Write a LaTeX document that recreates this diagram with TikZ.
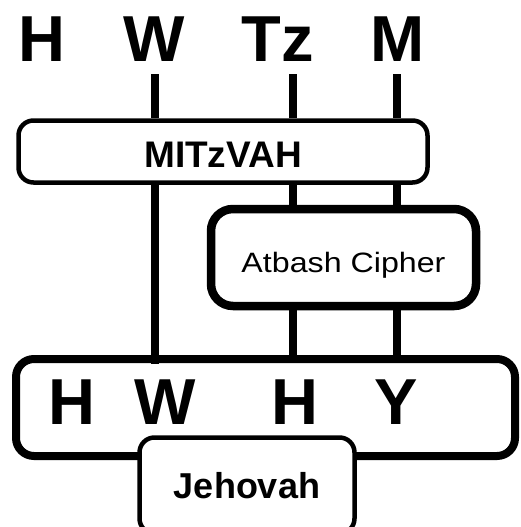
\documentclass[tikz,border=0pt]{standalone}
\usepackage{fontspec}
\setmainfont{Liberation Sans}
\newfontfamily\widesans[FakeStretch=1.15]{Liberation Sans}
\usepackage{tikz}
\usetikzlibrary{positioning}

\begin{document}
\begin{tikzpicture}[
        x=1pt, y=-1pt,
        letter/.style = {
            anchor=base,
            inner sep=0pt,
            font=\fontsize{65}{70}\selectfont\bfseries
        },
        thinbox/.style = {
            rectangle,
            rounded corners=15pt,
            draw=black,
            line width=4.5pt,
            fill=white,
            align=center,
            text depth=0pt
        },
        thickbox/.style = {
            rectangle,
            rounded corners=18pt,
            draw=black,
            line width=8pt,
            fill=white,
            align=center,
            text depth=0pt
        },
        link/.style = {
            line width=7.5pt
        }
    ]

    \clip (0,0) rectangle (521,527);

    % Top letters
    \node[letter] (h1)  at (42,62)  {H};
    \node[letter] (w1)  at (154,62) {W};
    \node[letter] (tz1) at (278,62) {Tz};
    \node[letter] (m1)  at (398,62) {M};

    \coordinate (colW) at (155,74);
    \coordinate (colT) at (293,74);
    \coordinate (colM) at (397,74);

    % Boxes
    \node[thinbox, minimum width=409pt, minimum height=62pt, text height=31pt,
          font=\fontsize{37}{40}\selectfont\bfseries] (mitzvah) at (223,151.5) {MITzVAH};
    \node[thickbox, line width=8.5pt, rounded corners=22pt, minimum width=265pt,
          minimum height=97pt, text height=29pt,
          font=\fontsize{28}{30}\widesans] (atbash) at (343.5,257.5) {Atbash Cipher};
    \node[thickbox, minimum width=499pt, minimum height=97pt] (result) at (265.5,407.5) {};

    % Bottom letters
    \node[letter] (h2) at (72,424)  {H};
    \node[letter] (w2) at (165,424) {W};
    \node[letter] (h3) at (295,424) {H};
    \node[letter] (y2) at (396,424) {Y};

    \node[thinbox, minimum width=215pt, minimum height=96pt, text height=25pt,
          font=\fontsize{36}{40}\selectfont\bfseries] (jehovah) at (247,485.5) {Jehovah};

    % Lines
    \draw[link] (colW) -- (colW |- mitzvah.north);
    \draw[link] (colW |- mitzvah.south) -- ([yshift=-9pt]colW |- result.north);
    \draw[link] (colT) -- (colT |- mitzvah.north);
    \draw[link] (colT |- mitzvah.south) -- (colT |- atbash.north);
    \draw[link] (colT |- atbash.south) -- (colT |- result.north);
    \draw[link] (colM) -- (colM |- mitzvah.north);
    \draw[link] (colM |- mitzvah.south) -- (colM |- atbash.north);
    \draw[link] (colM |- atbash.south) -- (colM |- result.north);

\end{tikzpicture}
\end{document}
